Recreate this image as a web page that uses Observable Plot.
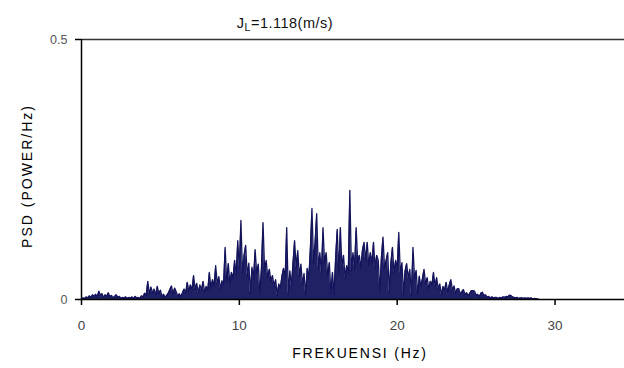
<!DOCTYPE html>
<html>
<head>
<meta charset="utf-8">
<script src="https://cdn.jsdelivr.net/npm/d3@7"></script>
<script src="https://cdn.jsdelivr.net/npm/@observablehq/plot@0.6"></script>
<style>
  html, body { margin: 0; padding: 0; background: #fff; }
  #chart svg { display: block; }
</style>
</head>
<body>
<div id="chart"></div>
<script>
// Frequency grid step (Hz) and PSD values, starting at 0 Hz
const freqStep = 0.1;
const psd = [
  0.001,0.003,0.002,0.005,0.003,0.007,0.004,0.009,0.006,0.010,
  0.005,0.016,0.008,0.011,0.004,0.009,0.006,0.013,0.005,0.008,
  0.003,0.006,0.009,0.004,0.006,0.002,0.004,0.003,0.005,0.002,
  0.004,0.003,0.005,0.002,0.006,0.003,0.004,0.002,0.007,0.005,
  0.012,0.008,0.035,0.010,0.024,0.012,0.020,0.009,0.025,0.011,
  0.018,0.006,0.010,0.004,0.008,0.012,0.019,0.026,0.010,0.022,
  0.015,0.006,0.011,0.005,0.013,0.020,0.012,0.033,0.016,0.028,
  0.018,0.046,0.020,0.031,0.012,0.028,0.017,0.035,0.014,0.025,
  0.018,0.052,0.022,0.038,0.026,0.065,0.030,0.044,0.020,0.036,
  0.028,0.100,0.034,0.069,0.030,0.052,0.040,0.075,0.048,0.113,
  0.060,0.152,0.050,0.085,0.104,0.045,0.070,0.012,0.062,0.040,
  0.096,0.050,0.068,0.010,0.060,0.148,0.055,0.075,0.042,0.058,
  0.035,0.046,0.025,0.038,0.008,0.030,0.022,0.045,0.060,0.040,
  0.138,0.010,0.055,0.025,0.070,0.113,0.060,0.094,0.045,0.068,
  0.030,0.050,0.008,0.060,0.040,0.098,0.175,0.070,0.110,0.165,
  0.060,0.090,0.050,0.138,0.070,0.090,0.045,0.071,0.012,0.052,
  0.010,0.080,0.135,0.050,0.138,0.060,0.085,0.040,0.065,0.050,
  0.210,0.055,0.090,0.060,0.138,0.070,0.085,0.060,0.095,0.110,
  0.075,0.110,0.065,0.090,0.070,0.110,0.060,0.085,0.075,0.015,
  0.080,0.120,0.060,0.075,0.090,0.012,0.070,0.100,0.050,0.075,
  0.060,0.129,0.050,0.071,0.010,0.055,0.069,0.040,0.058,0.008,
  0.100,0.040,0.056,0.010,0.045,0.025,0.040,0.058,0.030,0.042,
  0.020,0.035,0.028,0.052,0.025,0.042,0.020,0.030,0.008,0.025,
  0.018,0.033,0.015,0.028,0.038,0.018,0.026,0.012,0.020,0.021,
  0.010,0.015,0.019,0.009,0.013,0.007,0.012,0.017,0.017,0.016,
  0.008,0.010,0.005,0.012,0.014,0.007,0.009,0.004,0.006,0.003,
  0.005,0.003,0.004,0.004,0.002,0.004,0.003,0.005,0.004,0.006,
  0.005,0.008,0.008,0.005,0.004,0.003,0.004,0.002,0.003,0.003,
  0.002,0.003,0.002,0.003,0.002,0.003,0.001,0.002,0.001,0.001,
  0.000
];
const xTicks = [0, 10, 20, 30];
const yTicks = [0, 0.5];
const yTickLabels = ["0", "0.5"];
const titleMain = "J";
const titleSub = "L";
const titleRest = "=1.118(m/s)";
const xLabel = "FREKUENSI (Hz)";
const yLabel = "PSD (POWER/Hz)";

const data = psd.map((v, i) => ({f: +(i * freqStep).toFixed(2), p: v}));

const font = "'Liberation Sans', Arial, Helvetica, sans-serif";
const navy = "#14145c";

const chart = Plot.plot({
  width: 624,
  height: 368,
  marginLeft: 81,
  marginRight: 0,
  marginTop: 39,
  marginBottom: 69,
  style: {fontFamily: font, fontSize: "13px", background: "#fff", color: "#333", overflow: "visible"},
  x: {domain: [0, 34.4]},
  y: {domain: [0, 0.5]},
  marks: [
    Plot.axisX({ticks: xTicks, tickSize: 6, tickPadding: 15, label: null, stroke: "#000", fill: "#444", strokeWidth: 1.5, fontSize: 13.5}),
    Plot.axisY({ticks: yTicks, tickFormat: (d) => yTickLabels[yTicks.indexOf(d)], tickSize: 6, tickPadding: 8, label: null, stroke: "#000", fill: "#555", strokeWidth: 1.5, fontSize: 12.5}),
    Plot.areaY(data, {x: "f", y: "p", fill: navy, fillOpacity: 0.95}),
    Plot.line(data, {x: "f", y: "p", stroke: navy, strokeWidth: 1.3}),
    Plot.ruleY([0.5], {stroke: "#333", strokeWidth: 1.5}),
    Plot.ruleY([0], {stroke: "#000", strokeWidth: 1.5}),
    Plot.ruleX([0], {stroke: "#000", strokeWidth: 1.5})
  ]
});

const svg = d3.select(chart);
// title with subscript
const t = svg.append("text")
  .attr("x", 285).attr("y", 28)
  .attr("text-anchor", "middle")
  .attr("font-family", font)
  .attr("font-size", 14.5)
  .attr("letter-spacing", 0.5)
  .attr("fill", "#111");
t.append("tspan").text(titleMain);
t.append("tspan").attr("font-size", 10.5).attr("dy", 3).text(titleSub);
t.append("tspan").attr("dy", -3).text(titleRest);

svg.append("text")
  .attr("x", 360).attr("y", 358)
  .attr("text-anchor", "middle")
  .attr("font-family", font)
  .attr("font-size", 14)
  .attr("letter-spacing", 1.8)
  .attr("fill", "#000")
  .text(xLabel);

svg.append("text")
  .attr("transform", "translate(32,176) rotate(-90)")
  .attr("text-anchor", "middle")
  .attr("font-family", font)
  .attr("font-size", 14)
  .attr("letter-spacing", 2)
  .attr("fill", "#000")
  .text(yLabel);

document.getElementById("chart").appendChild(chart);
</script>
</body>
</html>
